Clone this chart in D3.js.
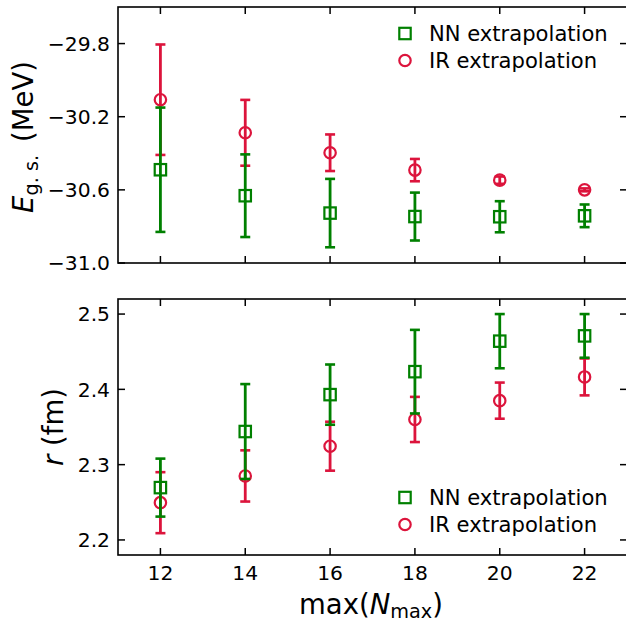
<!DOCTYPE html>
<html><head><meta charset="utf-8">
<script src="https://cdn.jsdelivr.net/npm/d3@7"></script>
<style>body{margin:0;background:#fff}svg{display:block;font-family:"DejaVu Sans",sans-serif}</style>
</head><body><svg id="c" width="626" height="622"></svg>
<script>
const nmax = [12, 14, 16, 18, 20, 22];
const xTicks = [12, 14, 16, 18, 20, 22];
const seriesNames = ["NN extrapolation", "IR extrapolation"];
const energyNN = [-30.49, -30.632, -30.727, -30.746, -30.747, -30.742];
const energyNNErr = [0.34, 0.226, 0.187, 0.131, 0.085, 0.062];
const energyIR = [-30.107, -30.288, -30.397, -30.492, -30.547, -30.600];
const energyIRErr = [0.302, 0.18, 0.10, 0.061, 0.02, 0.008];
const radiusNN = [2.2695, 2.344, 2.393, 2.4235, 2.464, 2.471];
const radiusNNErr = [0.0385, 0.063, 0.040, 0.0555, 0.036, 0.029];
const radiusIR = [2.2495, 2.285, 2.3245, 2.360, 2.385, 2.4165];
const radiusIRErr = [0.0405, 0.034, 0.0325, 0.030, 0.024, 0.0245];
const energyTicks = [-29.8, -30.2, -30.6, -31.0];
const radiusTicks = [2.2, 2.3, 2.4, 2.5];

const GREEN = "#008000", RED = "#dc143c";
const svg = d3.select("#c");
const L = 118, R = 627;
const x = d3.scaleLinear().domain([11, 23]).range([L, R]);

function panel(top, bottom, ydom, yticks, yfmt, nn, nnErr, ir, irErr, legY, showX) {
  const y = d3.scaleLinear().domain(ydom).range([bottom, top]);
  const g = svg.append("g");
  const sets = [
    {v: ir, e: irErr, c: RED, shape: "circle"},
    {v: nn, e: nnErr, c: GREEN, shape: "square"}
  ];
  sets.forEach(s => {
    const sg = g.append("g");
    nmax.forEach((n, i) => {
      const cx = x(n), y1 = y(s.v[i] + s.e[i]), y2 = y(s.v[i] - s.e[i]);
      sg.append("line").attr("x1", cx).attr("x2", cx).attr("y1", y1).attr("y2", y2)
        .attr("stroke", s.c).attr("stroke-width", 2.8);
      [y1, y2].forEach(yy => sg.append("line").attr("x1", cx - 5).attr("x2", cx + 5)
        .attr("y1", yy).attr("y2", yy).attr("stroke", s.c).attr("stroke-width", 2.6));
    });
    nmax.forEach((n, i) => {
      const cx = x(n), cy = y(s.v[i]);
      if (s.shape === "circle")
        sg.append("circle").attr("cx", cx).attr("cy", cy).attr("r", 5.7)
          .attr("fill", "none").attr("stroke", s.c).attr("stroke-width", 2.2);
      else
        sg.append("rect").attr("x", cx - 5.7).attr("y", cy - 5.7).attr("width", 11.4).attr("height", 11.4)
          .attr("fill", "none").attr("stroke", s.c).attr("stroke-width", 2.2);
    });
  });
  g.append("rect").attr("x", L).attr("y", top).attr("width", R - L).attr("height", bottom - top)
    .attr("fill", "none").attr("stroke", "#000").attr("stroke-width", 1.6);
  const tl = 7;
  xTicks.forEach(t => {
    g.append("line").attr("x1", x(t)).attr("x2", x(t)).attr("y1", bottom).attr("y2", bottom - tl).attr("stroke", "#000").attr("stroke-width", 1.5);
    g.append("line").attr("x1", x(t)).attr("x2", x(t)).attr("y1", top).attr("y2", top + tl).attr("stroke", "#000").attr("stroke-width", 1.5);
    if (showX) g.append("text").attr("x", x(t)).attr("y", bottom + 25).attr("text-anchor", "middle")
      .attr("font-size", 20.3).text(t);
  });
  yticks.forEach(t => {
    g.append("line").attr("x1", L).attr("x2", L + tl).attr("y1", y(t)).attr("y2", y(t)).attr("stroke", "#000").attr("stroke-width", 1.5);
    g.append("line").attr("x1", R).attr("x2", R - tl).attr("y1", y(t)).attr("y2", y(t)).attr("stroke", "#000").attr("stroke-width", 1.5);
    g.append("text").attr("x", L - 8).attr("y", y(t) + 7.3).attr("text-anchor", "end")
      .attr("font-size", 20.3).text(yfmt(t));
  });
  const lx = 405;
  seriesNames.forEach((name, i) => {
    const ly = legY + i * 27;
    if (i === 0)
      g.append("rect").attr("x", lx - 5.7).attr("y", ly - 5.7).attr("width", 11.4).attr("height", 11.4)
        .attr("fill", "none").attr("stroke", GREEN).attr("stroke-width", 2.2);
    else
      g.append("circle").attr("cx", lx).attr("cy", ly).attr("r", 5.7)
        .attr("fill", "none").attr("stroke", RED).attr("stroke-width", 2.2);
    g.append("text").attr("x", 429).attr("y", ly + 7.6).attr("font-size", 21.1).text(name);
  });
  return y;
}

panel(7, 263, [-31.0, -29.6], energyTicks, d3.format(".1f"), energyNN, energyNNErr, energyIR, energyIRErr, 33.5, false);
panel(299, 555, [2.18, 2.52], radiusTicks, d3.format(".1f"), radiusNN, radiusNNErr, radiusIR, radiusIRErr, 497.5, true);

const fs = 27.5;
const t1 = svg.append("text").attr("transform", "translate(33,137) rotate(-90)")
  .attr("text-anchor", "middle").attr("font-size", fs);
t1.append("tspan").attr("font-style", "italic").text("E");
t1.append("tspan").attr("font-size", fs * 0.7).attr("dy", 4.5).text("g. s.");
t1.append("tspan").attr("dy", -4.5).attr("dx", 13).text("(MeV)");

const t2 = svg.append("text").attr("transform", "translate(63,427) rotate(-90)")
  .attr("text-anchor", "middle").attr("font-size", fs);
t2.append("tspan").attr("font-style", "italic").text("r");
t2.append("tspan").text(" (fm)");

const t3 = svg.append("text").attr("x", 371).attr("y", 614).attr("text-anchor", "middle").attr("font-size", fs);
t3.append("tspan").text("max(");
t3.append("tspan").attr("font-style", "italic").text("N");
t3.append("tspan").attr("font-size", fs * 0.7).attr("dy", 4).text("max");
t3.append("tspan").attr("dy", -4).text(")");
</script></body></html>
